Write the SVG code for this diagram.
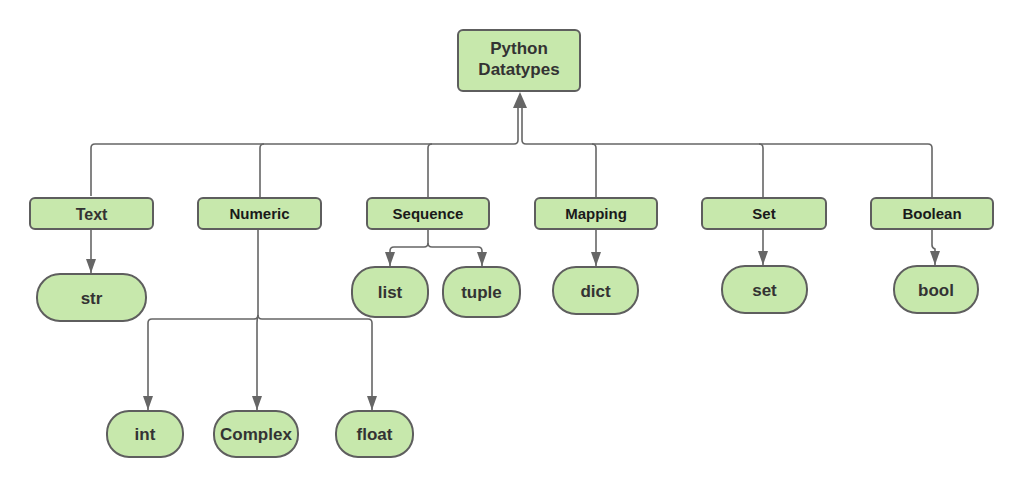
<svg xmlns="http://www.w3.org/2000/svg" width="1024" height="489" viewBox="0 0 1024 489">
<defs>
<marker id="arr" viewBox="0 0 14 10" refX="14" refY="5" markerWidth="14" markerHeight="10" markerUnits="userSpaceOnUse" orient="auto">
<path d="M0,0 L14,5 L0,10 Z" fill="#666"/>
</marker>
</defs>
<style>
.box{fill:#c7e8ac;stroke:#5e5e5e;stroke-width:2}
.lbl{font-family:"Liberation Sans",Arial,sans-serif;font-weight:bold;text-anchor:middle;fill:#333}
.cat{font-size:15px;fill:#1a1a1a}
.leaf{font-size:17px}
.ln{fill:none;stroke:#666;stroke-width:1.6}
</style>
<rect width="1024" height="489" fill="#fff"/>
<g id="connectors">
<path class="ln" d="M91,196 V148 Q91,144 95,144 H514 Q518,144 518,140 V106"/>
<path class="ln" d="M932,198 V148 Q932,144 928,144 H526 Q522,144 522,140 V106"/>
<path d="M520,92 L513,108 L527,108 Z" fill="#666"/>
<path class="ln" d="M260,198 V148 Q260,144 264,144"/>
<path class="ln" d="M428,198 V148 Q428,144 432,144"/>
<path class="ln" d="M596,198 V148 Q596,144 592,144"/>
<path class="ln" d="M763,198 V148 Q763,144 759,144"/>
<path class="ln" d="M91,229 V273" marker-end="url(#arr)"/>
<path class="ln" d="M258,229 V315 Q258,319 254,319 H152 Q148,319 148,323 V410" marker-end="url(#arr)"/>
<path class="ln" d="M258,315 Q257,319 257,323 V410" marker-end="url(#arr)"/>
<path class="ln" d="M258,315 Q258,319 262,319 H368 Q372,319 372,323 V410" marker-end="url(#arr)"/>
<path class="ln" d="M428,229 V243 Q428,247 424,247 H394 Q390,247 390,251 V266" marker-end="url(#arr)"/>
<path class="ln" d="M428,243 Q428,247 432,247 H478 Q482,247 482,251 V266" marker-end="url(#arr)"/>
<path class="ln" d="M596,229 V266" marker-end="url(#arr)"/>
<path class="ln" d="M763,229 V265" marker-end="url(#arr)"/>
<path class="ln" d="M932,229 V245 Q932,248 935,249 V265" marker-end="url(#arr)"/>
</g>
<g id="root"><rect class="box" x="458" y="30" width="122" height="61" rx="5"/>
<text class="lbl leaf" x="519" y="54">Python</text><text class="lbl leaf" x="519" y="75">Datatypes</text></g>
<g id="text"><rect class="box" x="30" y="198" width="123" height="31" rx="5"/><text class="lbl" x="91.5" y="220" style="font-size:16px">Text</text></g>
<g id="numeric"><rect class="box" x="198" y="198" width="123" height="31" rx="5"/><text class="lbl cat" x="259.5" y="219">Numeric</text></g>
<g id="sequence"><rect class="box" x="367" y="198" width="122" height="31" rx="5"/><text class="lbl cat" x="428" y="219">Sequence</text></g>
<g id="mapping"><rect class="box" x="535" y="198" width="122" height="31" rx="5"/><text class="lbl cat" x="596" y="219">Mapping</text></g>
<g id="set"><rect class="box" x="702" y="198" width="124" height="31" rx="5"/><text class="lbl cat" x="764" y="219">Set</text></g>
<g id="boolean"><rect class="box" x="871" y="198" width="122" height="31" rx="5"/><text class="lbl cat" x="932" y="219">Boolean</text></g>
<g id="str"><rect class="box" x="37" y="274" width="109" height="47" rx="23"/><text class="lbl leaf" x="91.5" y="303.5">str</text></g>
<g id="list"><rect class="box" x="352" y="267" width="76" height="50" rx="23"/><text class="lbl leaf" x="390" y="298">list</text></g>
<g id="tuple"><rect class="box" x="443" y="267" width="77" height="50" rx="23"/><text class="lbl leaf" x="481.5" y="298">tuple</text></g>
<g id="dict"><rect class="box" x="553" y="267" width="85" height="47" rx="23"/><text class="lbl leaf" x="595.5" y="296.5">dict</text></g>
<g id="set-leaf"><rect class="box" x="722" y="266" width="85" height="47" rx="23"/><text class="lbl leaf" x="764.5" y="295.5">set</text></g>
<g id="bool"><rect class="box" x="894" y="266" width="84" height="47" rx="23"/><text class="lbl leaf" x="936" y="295.5">bool</text></g>
<g id="int"><rect class="box" x="107" y="411" width="76" height="46" rx="22"/><text class="lbl leaf" x="145" y="440">int</text></g>
<g id="complex"><rect class="box" x="214" y="411" width="84" height="46" rx="22"/><text class="lbl leaf" x="256" y="440">Complex</text></g>
<g id="float"><rect class="box" x="336" y="411" width="77" height="46" rx="22"/><text class="lbl leaf" x="374.5" y="440">float</text></g>
</svg>
